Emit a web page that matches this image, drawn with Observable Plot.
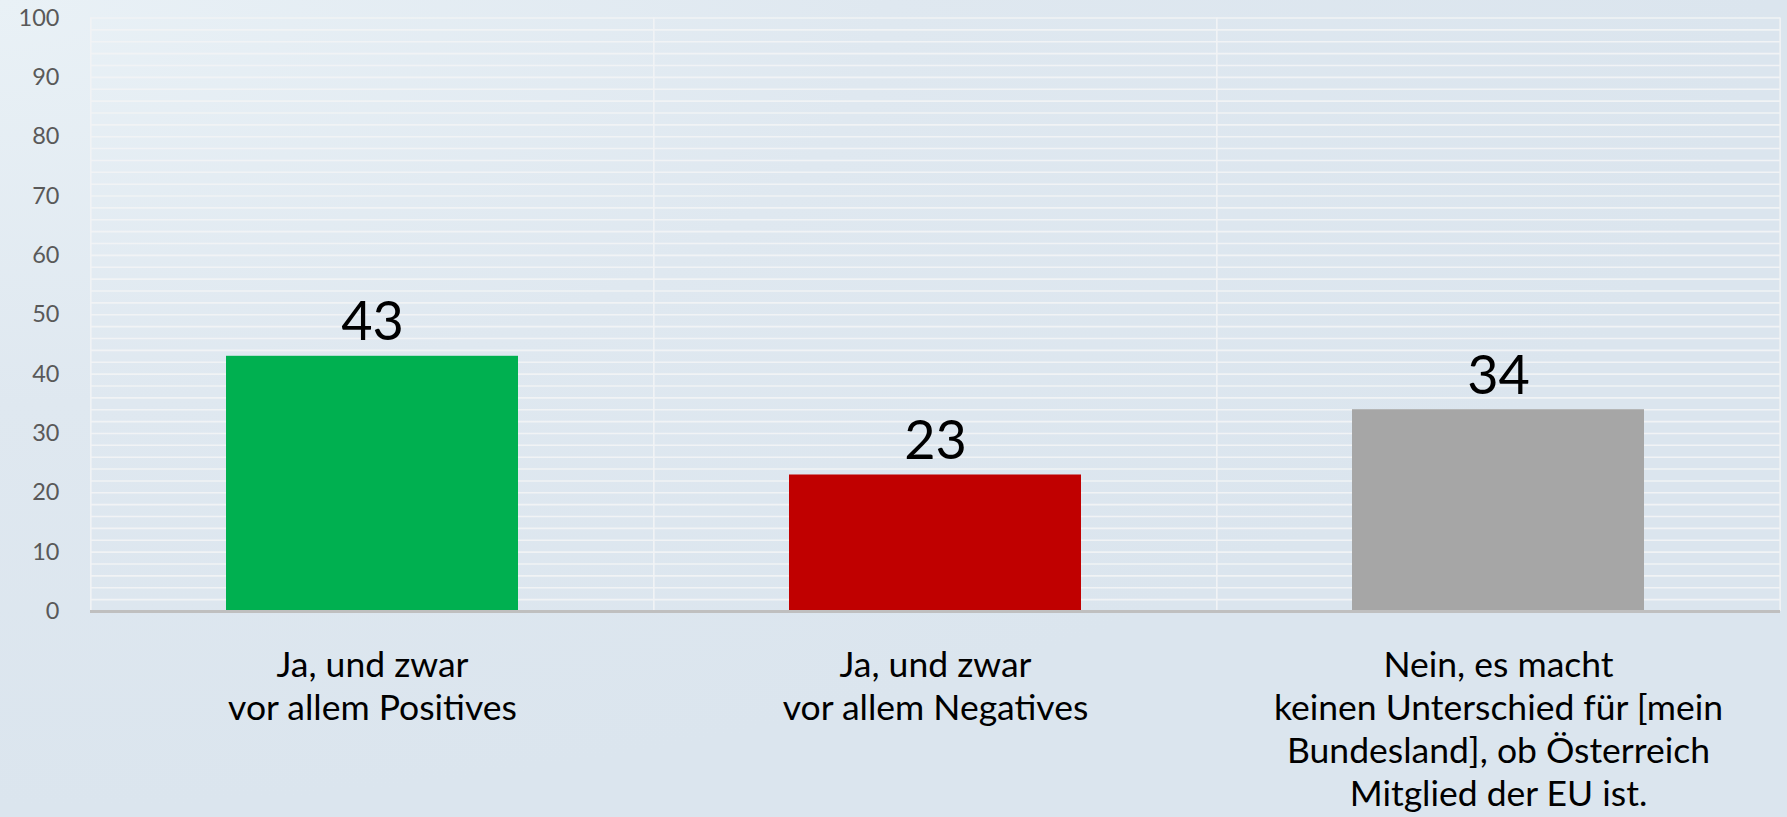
<!DOCTYPE html>
<html>
<head>
<meta charset="utf-8">
<script src="https://cdn.jsdelivr.net/npm/d3@7"></script>
<script src="https://cdn.jsdelivr.net/npm/@observablehq/plot@0.6"></script>
<style>
  html, body { margin: 0; padding: 0; }
  body {
    width: 1787px; height: 817px; overflow: hidden;
    background: radial-gradient(ellipse at 0% 0%, #e9f1f6 0%, #dfe8f0 35%, #dbe5ee 70%, #dbe5ee 100%);
  }
  #chart svg { display: block; background: transparent; }
</style>
</head>
<body>
<div id="chart"></div>
<script>
const categories = ["Positives", "Negatives", "Kein Unterschied"];
const categoryLabels = [
  "Ja, und zwar\nvor allem Positives",
  "Ja, und zwar\nvor allem Negatives",
  "Nein, es macht\nkeinen Unterschied für [mein\nBundesland], ob Österreich\nMitglied der EU ist."
];
const values = [43, 23, 34];
const colors = ["#00b050", "#c00000", "#a6a6a6"];
const yTicks = [0, 10, 20, 30, 40, 50, 60, 70, 80, 90, 100];
const minorGrid = d3.range(0, 101, 2);

const data = categories.map((c, i) => ({category: c, value: values[i], color: colors[i]}));
const labelOf = new Map(categories.map((c, i) => [c, categoryLabels[i]]));

const W = 1787, H = 817;
const mL = 90, mR = 7, mT = 17.5, mB = 206;
const step = (W - mL - mR) / categories.length;

const chart = Plot.plot({
  width: W,
  height: H,
  marginLeft: mL,
  marginRight: mR,
  marginTop: mT,
  marginBottom: mB,
  style: {background: "transparent", fontFamily: "Lato, sans-serif"},
  x: {domain: categories, paddingInner: 0.482, paddingOuter: 0.241, axis: null, label: null},
  y: {domain: [0, 100], axis: null, label: null},
  marks: [
    Plot.ruleY(minorGrid, {stroke: "#f1f3f5", strokeWidth: 1.6}),
    Plot.ruleX(categories, {x: d => d, dx: -step / 2, stroke: "#f1f3f5", strokeWidth: 1.6}),
    Plot.ruleX([categories[categories.length - 1]], {x: d => d, dx: step / 2, stroke: "#f1f3f5", strokeWidth: 1.6}),
    Plot.barY(data, {x: "category", y: "value", fill: "color"}),
    Plot.ruleY([0], {stroke: "#bfbfbf", strokeWidth: 2.8}),
    Plot.text(data, {x: "category", y: "value", text: d => String(d.value), lineAnchor: "bottom", dy: -16, fontSize: 54, fill: "#000", fontFamily: "Lato, sans-serif"}),
    Plot.axisY({ticks: yTicks, label: null, tickSize: 0, tickPadding: 31, fontSize: 23.5, fill: "#595959", fontFamily: "Lato, sans-serif", tickFormat: d => String(d)}),
    Plot.axisX({label: null, tickSize: 0, tickPadding: 35, fontSize: 35.5, lineHeight: 1.21, fill: "#000", fontFamily: "Lato, sans-serif", tickFormat: d => labelOf.get(d)})
  ]
});
document.getElementById("chart").appendChild(chart);
</script>
</body>
</html>
